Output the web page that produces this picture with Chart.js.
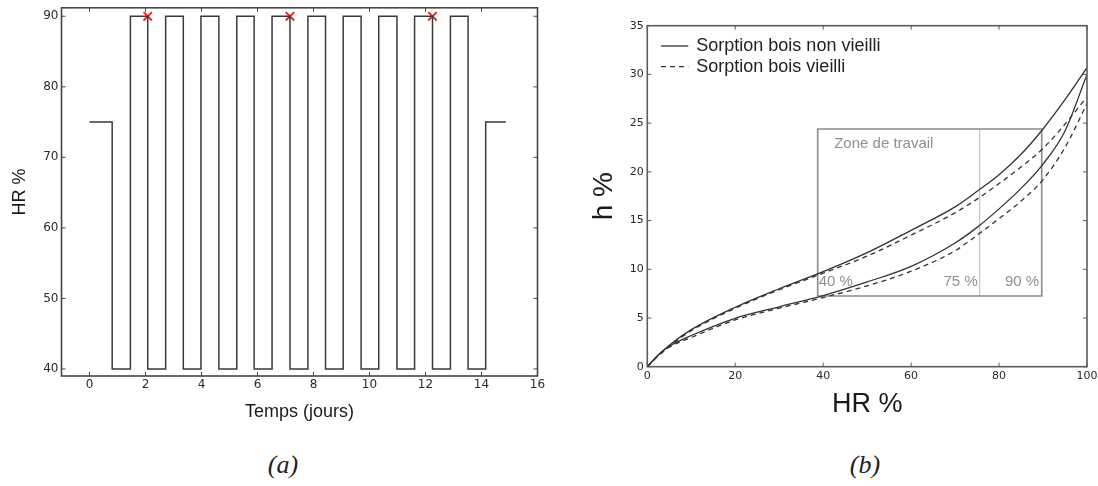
<!DOCTYPE html>
<html lang="fr">
<head>
<meta charset="utf-8">
<title>Cycles HR et isothermes de sorption</title>
<script src="https://cdn.jsdelivr.net/npm/chart.js@4.4.1/dist/chart.umd.min.js"></script>
<style>
  html, body { margin: 0; padding: 0; background: #fff; }
  body { width: 1098px; height: 486px; position: relative; overflow: hidden; }
  .panel { position: absolute; top: 0; height: 440px; }
  #panelA { left: 0; width: 560px; }
  #panelB { left: 590px; width: 508px; }
  .caption {
    position: absolute; top: 450px; line-height: 34px;
    font: italic 26px "Liberation Serif", serif; color: #222;
    transform: translateX(-50%);
  }
</style>
</head>
<body>
<div class="panel" id="panelA"><canvas id="chartA"></canvas></div>
<div class="panel" id="panelB"><canvas id="chartB"></canvas></div>
<div class="caption" style="left:283px">(a)</div>
<div class="caption" style="left:865px">(b)</div>
<script>
// ---- Panel (a): HR cycles over time ----
const stepTime = [0, 0.81, 1.46, 2.08, 2.72, 3.35, 3.98, 4.62, 5.26, 5.88, 6.52, 7.16,
                  7.80, 8.43, 9.06, 9.70, 10.33, 10.98, 11.61, 12.25, 12.89, 13.52, 14.15, 14.87];
const stepHR = [75, 40, 90, 40, 90, 40, 90, 40, 90, 40, 90, 40,
                90, 40, 90, 40, 90, 40, 90, 40, 90, 40, 75, 75];
const markerTime = [2.08, 7.16, 12.25];
const markerHR = [90, 90, 90];
const timeTicks = [0, 2, 4, 6, 8, 10, 12, 14, 16];
const hrTicksA = [40, 50, 60, 70, 80, 90];

// ---- Panel (b): sorption isotherms ----
const sorpHR = [0, 2.5, 5, 10, 20, 30, 40, 50, 60, 70, 75, 80, 85, 90, 95, 100];
const desNew = [0, 1.2, 2.2, 3.8, 6.1, 8.0, 9.75, 11.7, 14.0, 16.4, 18.0, 19.7, 21.8, 24.4, 27.4, 30.7];
const adsNew = [0, 1.2, 2.1, 3.2, 4.97, 6.15, 7.3, 8.7, 10.3, 12.7, 14.3, 16.2, 18.3, 20.8, 24.2, 30.0];
const desOld = [0, 1.15, 2.1, 3.7, 6.0, 7.9, 9.6, 11.35, 13.5, 15.8, 17.2, 18.8, 20.5, 22.4, 24.9, 27.7];
const adsOld = [0, 1.1, 2.0, 3.0, 4.8, 6.0, 7.1, 8.3, 9.8, 11.9, 13.5, 15.2, 17.0, 19.2, 22.5, 27.0];
const zoneHR = [38.75, 75.6, 89.7];
const zoneH = [7.26, 24.4];
const zoneTitle = 'Zone de travail';
const zoneLabels = ['40 %', '75 %', '90 %'];
const legendLabels = ['Sorption bois non vieilli', 'Sorption bois vieilli'];
const hrTicksB = [0, 20, 40, 60, 80, 100];
const hTicks = [0, 5, 10, 15, 20, 25, 30, 35];

const toPoints = (xs, ys) => xs.map((x, i) => ({ x: x, y: ys[i] }));

// Fix axis box size so the plot area lands where it should
function fitWidth(w) {
    return function (s) {
        s.width = w;
        s.paddingTop = s.paddingBottom = s.paddingLeft = s.paddingRight = 0;
    };
}
function fitHeight(h) {
    return function (s) {
        s.height = h;
        s.paddingTop = s.paddingBottom = s.paddingLeft = s.paddingRight = 0;
    };
}
function useTicks(values) {
    return function (s) {
        s.ticks = values.map(v => ({ value: v }));
    };
}

// Box around the plot area with inward ticks on every side
const framePlugin = {
    id: 'frame',
    afterDatasetsDraw(chart, args, opts) {
        const { ctx, chartArea: a, scales } = chart;
        ctx.save();
        ctx.strokeStyle = opts.color;
        ctx.lineWidth = opts.width;
        ctx.strokeRect(a.left, a.top, a.right - a.left, a.bottom - a.top);
        ctx.beginPath();
        scales.x.ticks.forEach(t => {
            const px = scales.x.getPixelForValue(t.value);
            ctx.moveTo(px, a.bottom); ctx.lineTo(px, a.bottom - opts.tick);
            ctx.moveTo(px, a.top); ctx.lineTo(px, a.top + opts.tick);
        });
        scales.y.ticks.forEach(t => {
            const py = scales.y.getPixelForValue(t.value);
            ctx.moveTo(a.left, py); ctx.lineTo(a.left + opts.tick, py);
            ctx.moveTo(a.right, py); ctx.lineTo(a.right - opts.tick, py);
        });
        ctx.lineWidth = 1;
        ctx.stroke();
        ctx.restore();
    }
};

// Legend drawn inside the top-left corner of panel (b)
const legendPlugin = {
    id: 'insideLegend',
    afterDatasetsDraw(chart, args, opts) {
        const { ctx, chartArea: a } = chart;
        ctx.save();
        ctx.font = opts.font;
        ctx.textBaseline = 'middle';
        ctx.textAlign = 'left';
        opts.items.forEach((item, i) => {
            const ds = chart.data.datasets[item.dataset];
            const y = a.top + opts.top + i * opts.rowGap;
            const x0 = a.left + opts.left;
            ctx.strokeStyle = ds.borderColor;
            ctx.lineWidth = ds.borderWidth;
            ctx.setLineDash(ds.borderDash || []);
            ctx.beginPath();
            ctx.moveTo(x0, y);
            ctx.lineTo(x0 + opts.lineLen, y);
            ctx.stroke();
            ctx.fillStyle = '#222';
            ctx.fillText(item.text, x0 + opts.lineLen + opts.gap, y);
        });
        ctx.restore();
    }
};

// Labels of the working zone
const zonePlugin = {
    id: 'zoneText',
    afterDatasetsDraw(chart) {
        const { ctx, scales: { x, y } } = chart;
        const left = x.getPixelForValue(zoneHR[0]);
        const mid = x.getPixelForValue(zoneHR[1]);
        const right = x.getPixelForValue(zoneHR[2]);
        const top = y.getPixelForValue(zoneH[1]);
        const bottom = y.getPixelForValue(zoneH[0]);
        ctx.save();
        ctx.font = '15px "Liberation Sans", Arial, sans-serif';
        ctx.fillStyle = '#8f8f8f';
        ctx.textBaseline = 'middle';
        ctx.textAlign = 'left';
        ctx.fillText(zoneTitle, left + 16.5, top + 14.5);
        ctx.fillText(zoneLabels[0], left + 1, bottom - 14.5);
        ctx.textAlign = 'right';
        ctx.fillText(zoneLabels[1], mid - 2, bottom - 14.5);
        ctx.fillText(zoneLabels[2], right - 2.5, bottom - 14.5);
        ctx.restore();
    }
};

const tickFont = size => ({ family: '"DejaVu Sans", sans-serif', size: size });
const titleFont = (size, lh) => ({ family: '"Liberation Sans", Arial, sans-serif', size: size, lineHeight: lh });
const noGrid = { display: false, drawTicks: false };

// ---- Chart (a) ----
new Chart(document.getElementById('chartA'), {
    type: 'line',
    data: {
        datasets: [{
            data: toPoints(stepTime, stepHR),
            stepped: true,
            borderColor: '#3a3a3a',
            borderWidth: 1.5,
            pointRadius: 0,
            fill: false
        }, {
            data: toPoints(markerTime, markerHR),
            showLine: false,
            pointStyle: 'crossRot',
            pointRadius: 6,
            borderColor: '#e8211c',
            borderWidth: 1.8
        }]
    },
    options: {
        responsive: true,
        maintainAspectRatio: false,
        animation: false,
        layout: { padding: { left: 0, top: 6, right: 22.5, bottom: 0 } },
        plugins: {
            legend: { display: false },
            tooltip: { enabled: false },
            frame: { color: '#454545', width: 1.6, tick: 4 }
        },
        scales: {
            x: {
                type: 'linear', min: -1, max: 16,
                grid: noGrid, border: { display: false },
                afterBuildTicks: useTicks(timeTicks),
                afterFit: fitHeight(64),
                ticks: { font: tickFont(12), color: '#2b2b2b', padding: 2 },
                title: { display: true, text: 'Temps (jours)', color: '#1a1a1a',
                         font: titleFont(18, 1.2), padding: { top: 0, bottom: 17.5 } }
            },
            y: {
                type: 'linear', min: 39, max: 91.2,
                grid: noGrid, border: { display: false },
                afterBuildTicks: useTicks(hrTicksA),
                afterFit: fitWidth(61.5),
                ticks: { font: tickFont(12), color: '#2b2b2b', padding: 3 },
                title: { display: true, text: 'HR %', color: '#1a1a1a',
                         font: titleFont(18, 1.2), padding: { top: 9.5, bottom: 0 } }
            }
        }
    },
    plugins: [framePlugin]
});

// ---- Chart (b) ----
const curveStyle = (values, dashed) => ({
    data: toPoints(sorpHR, values),
    borderColor: '#333',
    borderWidth: 1.3,
    borderDash: dashed ? [5, 4] : [],
    pointRadius: 0,
    cubicInterpolationMode: 'monotone',
    fill: false
});

new Chart(document.getElementById('chartB'), {
    type: 'line',
    data: {
        datasets: [
            curveStyle(desNew, false),
            curveStyle(adsNew, false),
            curveStyle(desOld, true),
            curveStyle(adsOld, true),
            {
                data: toPoints([zoneHR[0], zoneHR[0], zoneHR[2], zoneHR[2], zoneHR[0]],
                               [zoneH[0], zoneH[1], zoneH[1], zoneH[0], zoneH[0]]),
                borderColor: '#8a8a8a',
                borderWidth: 1.6,
                pointRadius: 0,
                tension: 0,
                fill: false
            },
            {
                data: toPoints([zoneHR[1], zoneHR[1]], [zoneH[0], zoneH[1]]),
                borderColor: '#b8b8b8',
                borderWidth: 1,
                pointRadius: 0,
                fill: false
            }
        ]
    },
    options: {
        responsive: true,
        maintainAspectRatio: false,
        animation: false,
        layout: { padding: { left: 0, top: 25.7, right: 11, bottom: 0 } },
        plugins: {
            legend: { display: false },
            tooltip: { enabled: false },
            frame: { color: '#5c5c5c', width: 1.6, tick: 4 },
            insideLegend: {
                font: '18px "Liberation Sans", Arial, sans-serif',
                items: [
                    { dataset: 0, text: legendLabels[0] },
                    { dataset: 2, text: legendLabels[1] }
                ],
                left: 13.7, top: 20.3, rowGap: 20.7, lineLen: 27.3, gap: 8
            }
        },
        scales: {
            x: {
                type: 'linear', min: 0, max: 100,
                grid: noGrid, border: { display: false },
                afterBuildTicks: useTicks(hrTicksB),
                afterFit: fitHeight(73.3),
                ticks: { font: tickFont(11), color: '#2b2b2b', padding: 2.4 },
                title: { display: true, text: 'HR %', color: '#1a1a1a',
                         font: titleFont(27, 1), padding: { top: 0, bottom: 22 } }
            },
            y: {
                type: 'linear', min: 0, max: 35,
                grid: noGrid, border: { display: false },
                afterBuildTicks: useTicks(hTicks),
                afterFit: fitWidth(57.3),
                ticks: { font: tickFont(11), color: '#2b2b2b', padding: 3.5 },
                title: { display: true, text: 'h %', color: '#1a1a1a',
                         font: titleFont(28, 1), padding: { top: 0, bottom: 0 } }
            }
        }
    },
    plugins: [framePlugin, legendPlugin, zonePlugin]
});
</script>
</body>
</html>
